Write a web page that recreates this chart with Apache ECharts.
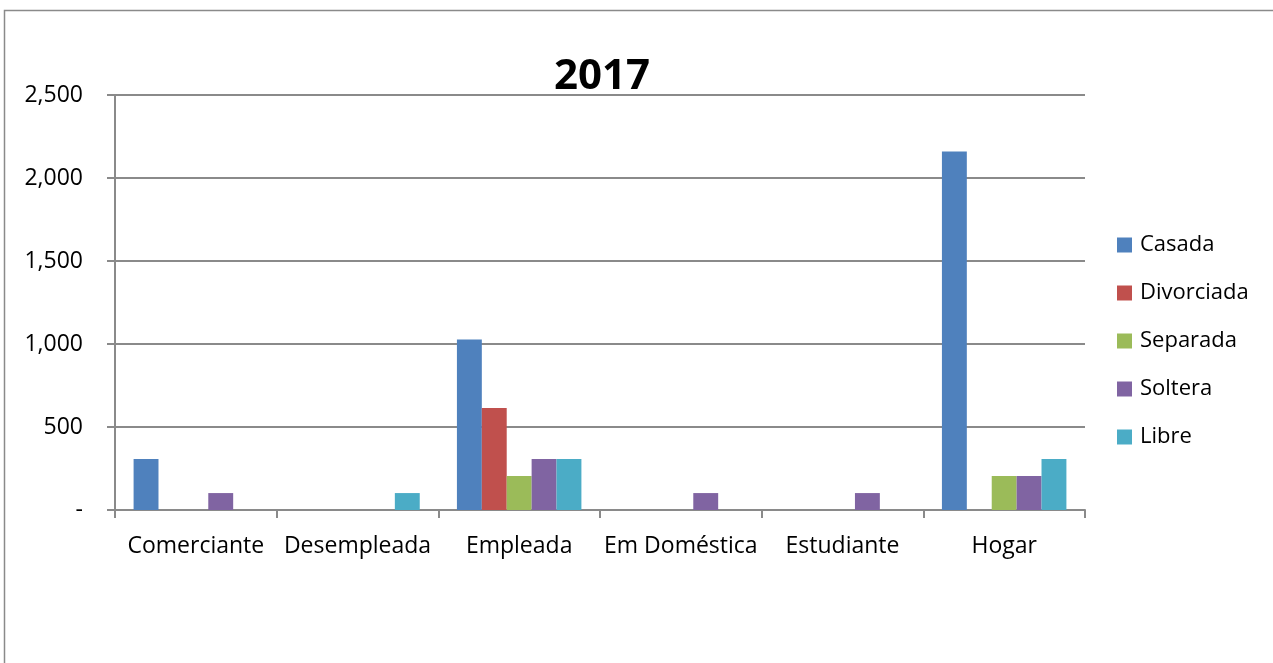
<!DOCTYPE html>
<html>
<head>
<meta charset="utf-8">
<title>2017</title>
<script src="https://cdn.jsdelivr.net/npm/echarts@6/dist/echarts.min.js"></script>
<style>
  html, body { margin: 0; padding: 0; background: #ffffff; }
  #chart { width: 1273px; height: 663px; }
</style>
</head>
<body>
<div id="chart"></div>
<script>
// Occupation categories along the x axis
const categories = ['Comerciante', 'Desempleada', 'Empleada', 'Em Doméstica', 'Estudiante', 'Hogar'];

// Counts per marital status, one value per occupation
const casada     = [307, 0, 1027, 0, 0, 2160];
const divorciada = [0, 0, 614, 0, 0, 0];
const separada   = [0, 0, 205, 0, 0, 205];
const soltera    = [102, 0, 307, 102, 102, 205];
const libre      = [0, 102, 307, 0, 0, 307];

const seriesNames  = ['Casada', 'Divorciada', 'Separada', 'Soltera', 'Libre'];
const seriesValues = [casada, divorciada, separada, soltera, libre];
const seriesColors = ['#4F81BD', '#C0504D', '#9BBB59', '#8064A2', '#4BACC6'];

const FONT = '"Open Sans", "Noto Sans", sans-serif';
const AXIS_GRAY = '#8a8a8a';

const chart = echarts.init(document.getElementById('chart'), null, { renderer: 'canvas' });

chart.setOption({
  backgroundColor: '#ffffff',
  animation: false,
  textStyle: { fontFamily: FONT },
  title: {
    text: '2017',
    left: 597,
    top: 51,
    textAlign: 'center',
    textStyle: { fontFamily: FONT, fontSize: 42, fontWeight: 'bold', color: '#000000' }
  },
  graphic: [{
    type: 'rect',
    shape: { x: 4.5, y: 10.5, width: 1400, height: 800 },
    style: { fill: 'none', stroke: AXIS_GRAY, lineWidth: 1.5 },
    silent: true,
    z: -1
  }],
  legend: {
    orient: 'vertical',
    left: 1112,
    top: 229,
    itemWidth: 15,
    itemHeight: 15,
    itemGap: 26,
    icon: 'rect',
    data: seriesNames,
    textStyle: { fontFamily: FONT, fontSize: 22, color: '#000000', padding: [0, 0, 0, 3] }
  },
  grid: {
    left: 115,
    right: 188,
    top: 95,
    bottom: 153,
    containLabel: false
  },
  xAxis: {
    type: 'category',
    data: categories,
    boundaryGap: true,
    axisLine: { show: true, lineStyle: { color: AXIS_GRAY, width: 2 } },
    axisTick: { show: true, interval: 0, length: 8, alignWithLabel: false, lineStyle: { color: AXIS_GRAY, width: 2 } },
    axisLabel: {
      interval: 0,
      margin: 25,
      fontFamily: FONT,
      fontSize: 23,
      color: '#000000'
    },
    splitLine: { show: false }
  },
  yAxis: {
    type: 'value',
    min: 0,
    max: 2500,
    interval: 500,
    axisLine: { show: true, lineStyle: { color: AXIS_GRAY, width: 2 } },
    axisTick: { show: true, length: 8, lineStyle: { color: AXIS_GRAY, width: 2 } },
    axisLabel: {
      margin: 32,
      fontFamily: FONT,
      fontSize: 23,
      color: '#000000',
      formatter: function (v) {
        return v === 0 ? '-' : v.toLocaleString('en-US');
      }
    },
    splitLine: { show: true, lineStyle: { color: AXIS_GRAY, width: 2 } }
  },
  series: seriesNames.map(function (name, i) {
    return {
      name: name,
      type: 'bar',
      data: seriesValues[i],
      barGap: '0%',
      barCategoryGap: '23%',
      itemStyle: { color: seriesColors[i] },
      emphasis: { disabled: true }
    };
  })
});
</script>
</body>
</html>
